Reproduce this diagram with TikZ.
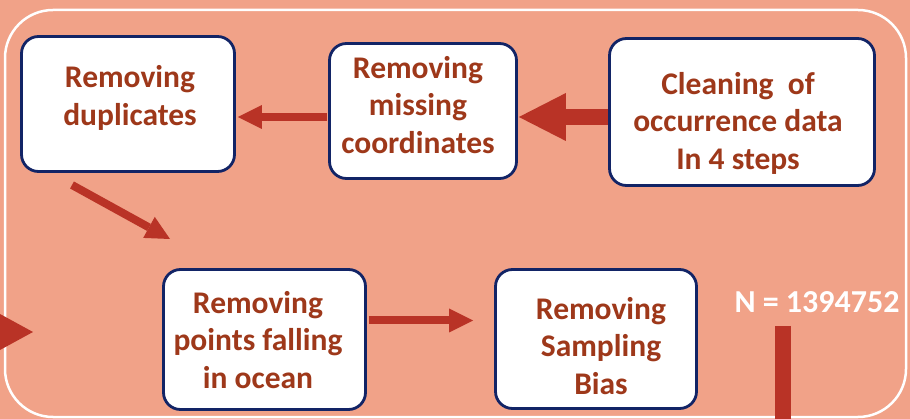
\documentclass[tikz,border=0pt]{standalone}
\usepackage{fontspec}
\setmainfont{Carlito}
\usepackage{xcolor}
\usetikzlibrary{arrows.meta,positioning}

\definecolor{bgsalmon}{RGB}{241,162,136}
\definecolor{boxnavy}{RGB}{18,36,102}
\definecolor{arrowred}{RGB}{185,51,38}
\definecolor{txtred}{RGB}{158,56,26}

\begin{document}
\begin{tikzpicture}[x=1pt, y=-1pt,
    stepbox/.style={draw=boxnavy, line width=2.8pt, fill=white, rounded corners=17pt, inner sep=0pt},
    steptext/.style={text=txtred, align=center, font=\bfseries\fontsize{31.5}{37.5}\selectfont},
    thickarrow/.style={draw=arrowred, line width=16pt, -{Triangle[length=47pt, width=48pt, line width=0pt]}},
    thinarrow/.style={draw=arrowred, line width=8pt, -{Triangle[length=24pt, width=24pt, line width=0pt]}}]
      % page and outer frame
      \useasboundingbox (0,0) rectangle (910,419);
      \fill[bgsalmon] (0,0) rectangle (910,419);
      \draw[white, line width=2.5pt, rounded corners=48pt] (5,10) rectangle (906,417);
      % upper row of steps
      \node[stepbox, minimum width=213pt, minimum height=135pt] (dup) at (128,104) {};
      \node[steptext] (duptxt) at (130,98) {Removing\\duplicates};
      \node[stepbox, minimum width=187pt, minimum height=135pt] (miss) at (423,111) {};
      \node[steptext] (misstxt) at (418,105) {Removing\\missing\\coordinates};
      \node[stepbox, minimum width=265pt, minimum height=147pt] (clean) at (742,112) {};
      \node[steptext] (cleantxt) at (738,123) {Cleaning\ \ of\\occurrence data\\In 4 steps};
      % lower row of steps
      \node[stepbox, minimum width=202pt, minimum height=140pt] (ocean) at (264.5,339.5) {};
      \node[steptext] (oceantxt) at (258,340) {Removing\\points falling\\in ocean};
      \node[stepbox, minimum width=201pt, minimum height=139pt] (bias) at (596,339) {};
      \node[steptext] (biastxt) at (601,346) {Removing\\Sampling\\Bias};
      \node[text=white, font=\bfseries\fontsize{32}{38}\selectfont] (count) at (817,302) {N = 1394752};
      % connectors
      \coordinate (cleanout) at ([yshift=-5pt]clean.west);
      \draw[thickarrow, shorten >=1pt] (cleanout) -- (cleanout -| miss.east);
      \coordinate (missout) at ([yshift=-6pt]miss.west);
      \draw[thinarrow, shorten <=1pt, shorten >=2pt] (missout) -- (missout -| dup.east);
      \coordinate (dupout) at (72,185);
      \coordinate (dupend) at (170,239);
      \draw[thinarrow] (dupout) -- (dupend);
      \coordinate (oceanout) at ([yshift=19pt]ocean.east);
      \draw[thinarrow, shorten <=2pt, shorten >=21pt] (oceanout) -- (oceanout -| bias.west);
      % pieces cut off at the page edges
      \fill[arrowred] (0,314) -- (33,332) -- (0,350) -- cycle;
      \coordinate (bartop) at (783,326);
      \coordinate (barend) at (783,425);
      \draw[arrowred, line width=16pt] (bartop) -- (barend);
    \end{tikzpicture}
\end{document}
